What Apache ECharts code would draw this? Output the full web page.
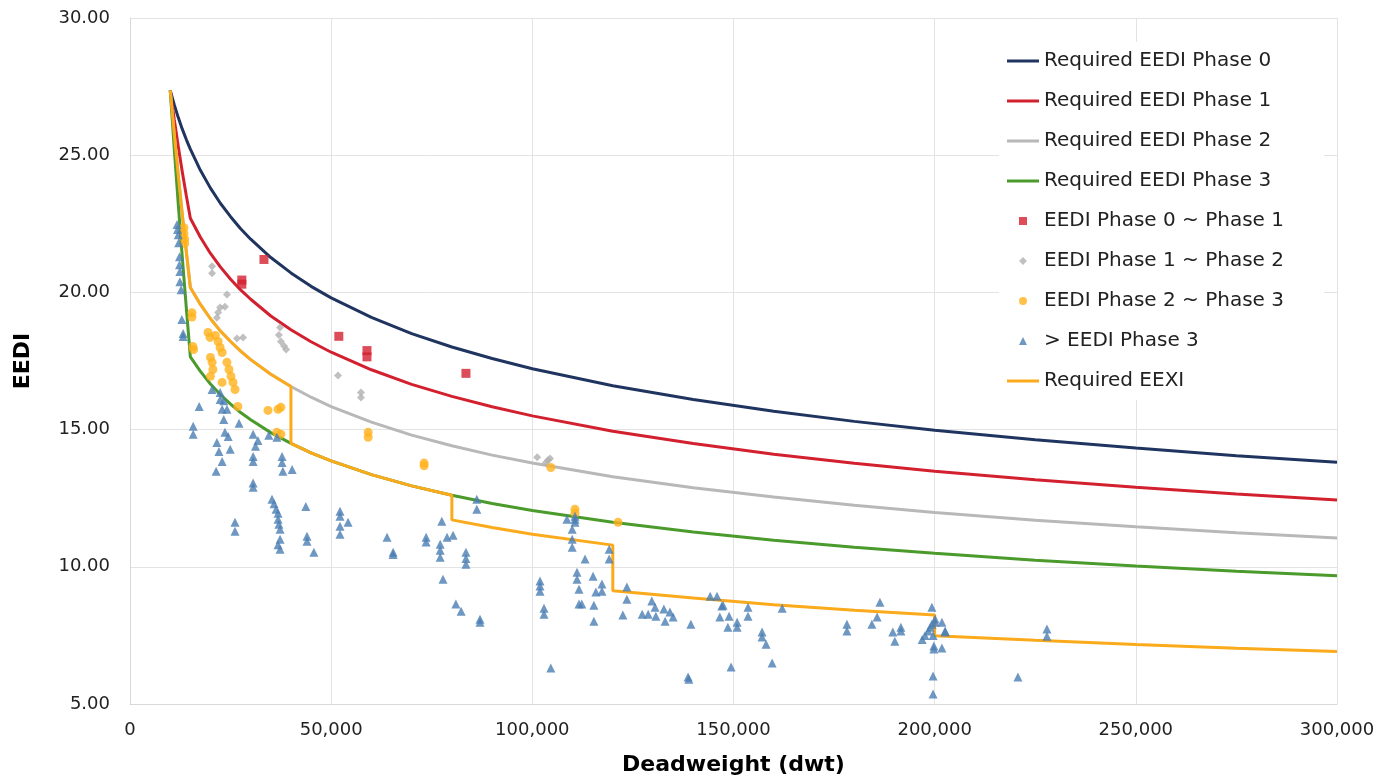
<!DOCTYPE html>
<html><head><meta charset="utf-8">
<script src="https://cdn.jsdelivr.net/npm/echarts@6/dist/echarts.min.js"></script>
<style>html,body{margin:0;padding:0;background:#fff}#c{width:1399px;height:781px}</style>
</head><body><div id="c"></div>
<script>
// Deadweight sample points for the required lines
const dwt = [10000,11000,12000,13000,14000,15000,17500,20000,22500,25000,27500,30000,35000,40000,45000,50000,60000,70000,80000,90000,100000,120000,140000,160000,180000,200000,225000,250000,275000,300000];
const phase0 = [27.36,26.84,26.37,25.95,25.57,25.22,24.45,23.80,23.24,22.76,22.32,21.94,21.27,20.71,20.22,19.80,19.09,18.50,18.01,17.59,17.22,16.60,16.10,15.67,15.30,14.98,14.63,14.33,14.05,13.81];
const phase1 = [27.36,26.30,25.32,24.39,23.52,22.70,22.01,21.42,20.92,20.48,20.09,19.75,19.14,18.64,18.20,17.82,17.18,16.65,16.21,15.83,15.50,14.94,14.49,14.10,13.77,13.48,13.17,12.90,12.65,12.43];
const phase2 = [27.36,25.77,24.26,22.84,21.48,20.18,19.56,19.04,18.59,18.21,17.86,17.55,17.02,16.57,16.18,15.84,15.27,14.80,14.41,14.07,13.78,13.28,12.88,12.54,12.24,11.98,11.70,11.46,11.24,11.05];
const phase3 = [27.36,25.23,23.21,21.28,19.43,17.65,17.12,16.66,16.27,15.93,15.62,15.36,14.89,14.50,14.15,13.86,13.36,12.95,12.61,12.31,12.05,11.62,11.27,10.97,10.71,10.49,10.24,10.03,9.84,9.67];
// Required EEXI (stepped)
const eexiDwt = [10000,11000,12000,13000,14000,15000,17500,20000,22500,25000,27500,30000,35000,40000,40000,45000,50000,60000,70000,80000,80000,90000,100000,120000,120000,140000,160000,180000,200000,200000,225000,250000,275000,300000];
const eexiVal = [27.36,25.77,24.26,22.84,21.48,20.18,19.56,19.04,18.59,18.21,17.86,17.55,17.02,16.57,14.50,14.15,13.86,13.36,12.95,12.61,11.71,11.43,11.19,10.79,9.13,8.86,8.62,8.42,8.24,7.49,7.32,7.17,7.03,6.91];

// Ship points [dwt, EEDI]
const ptsPh0to1 = [[33300,21.2],[27800,20.45],[27800,20.3],[51900,18.4],[58900,17.88],[58900,17.65],[83500,17.05]];
const ptsPh1to2 = [[20400,20.95],[20400,20.7],[24100,19.92],[23600,19.48],[22400,19.45],[21900,19.27],[21600,19.08],[26600,18.32],[28100,18.36],[37300,18.72],[37000,18.45],[37500,18.21],[38300,18.05],[38800,17.92],[51700,16.97],[57400,16.35],[57400,16.17],[101200,13.99],[103900,13.88],[104400,13.95],[103400,13.8]];
const ptsPh2to3 = [[13400,22.36],[13400,22.15],[13600,21.95],[13600,21.78],[15400,19.26],[15400,19.1],[15600,18.03],[15800,17.92],[19400,18.54],[19900,18.36],[21200,18.43],[21900,18.21],[22400,17.99],[22900,17.81],[20000,17.63],[20400,17.45],[20600,17.19],[20000,16.94],[24100,17.45],[24600,17.19],[25100,16.94],[25600,16.72],[26100,16.46],[22900,16.72],[26800,15.84],[34300,15.7],[36800,15.74],[37500,15.81],[36500,14.9],[37500,14.83],[59200,14.9],[59200,14.72],[73100,13.78],[73100,13.68],[104600,13.62],[110600,12.1],[110600,11.95],[121300,11.62]];
const ptsPh3 = [[11700,22.47],[11800,22.29],[12000,22.1],[12100,21.81],[12300,21.3],[12300,21.01],[12400,20.76],[12400,20.39],[12700,20.1],[12900,19.01],[13200,18.39],[13200,18.5],
[20400,16.46],[22400,16.35],[23300,16.05],[24100,15.74],[17200,15.84],[22400,16.1],[22900,15.74],[23300,15.37],[23600,14.9],[15700,15.12],[15700,14.83],
[21600,14.53],[22100,14.2],[22900,13.84],[21400,13.48],[24400,14.75],[24900,14.28],[27100,15.23],[30600,14.83],[31800,14.6],[31200,14.39],[30600,14.02],[30600,13.84],[30600,13.05],[30600,12.9],
[34500,14.79],[36500,14.72],[37800,14.02],[37800,13.8],[38000,13.48],[40300,13.55],[35300,12.46],[35800,12.3],[36300,12.1],[36800,11.95],[36800,11.73],[37000,11.55],[37300,11.37],[37300,11.0],[37300,10.64],[36800,10.8],
[43700,12.2],[26100,11.62],[26100,11.3],[44000,11.11],[44000,10.93],[45700,10.53],[52200,12.02],[52200,11.84],[54200,11.62],[52200,11.48],[52200,11.19],[63900,11.08],[65400,10.53],[65400,10.45],
[77500,11.66],[73600,11.08],[73600,10.9],[77100,10.82],[77100,10.6],[77100,10.35],[78800,11.08],[80300,11.15],[83500,10.53],[83500,10.3],[83500,10.09],[77800,9.55],[81000,8.64],[82300,8.38],[87000,8.09],[87000,7.98],
[101900,9.48],[101900,9.3],[101900,9.11],[102900,8.49],[102900,8.27],[104600,6.31],[109900,11.37],[109900,11.0],[109900,10.71],[111100,9.80],[111100,9.55],[111600,9.18],[111600,8.64],
[86200,12.46],[86200,12.1],[108600,11.73],[110600,11.73],[110600,11.84],[110600,11.62],[113100,10.28],[115100,9.66],[117300,9.37],[117300,9.11],[115800,9.08],[112300,8.64],[115300,8.6],[115300,8.02],
[119100,10.64],[119100,10.28],[123500,9.26],[123500,8.82],[122500,8.24],[127300,8.27],[128800,8.27],[129700,8.75],[130500,8.53],[130700,8.2],[132700,8.46],[133000,8.02],[134200,8.35],[135000,8.17],
[139400,7.91],[138700,5.98],[138900,5.9],[144200,8.93],[145900,8.93],[147100,8.57],[146600,8.17],[147400,8.6],[148900,8.2],[148600,7.8],[150900,7.98],[150900,7.8],[149400,6.35],
[153600,8.53],[153600,8.2],[157100,7.62],[157100,7.44],[158100,7.18],[159600,6.49],[162100,8.49],[178200,7.91],[178200,7.66],[184400,7.91],[185700,8.17],[186400,8.71],
[189600,7.62],[190100,7.29],[191600,7.8],[191600,7.66],[196900,7.35],[197600,7.5],[198400,7.66],[198900,7.8],[199300,7.91],[200100,8.1],[199600,7.5],
[199300,8.53],[200100,7.98],[201800,7.98],[202600,7.66],[202600,7.62],[199800,7.11],[199800,7.0],[201800,7.04],[199600,6.02],[199600,5.36],[220700,5.98],[227900,7.73],[227900,7.47]];

const names = ['Required EEDI Phase 0','Required EEDI Phase 1','Required EEDI Phase 2','Required EEDI Phase 3','EEDI Phase 0 ~ Phase 1','EEDI Phase 1 ~ Phase 2','EEDI Phase 2 ~ Phase 3','> EEDI Phase 3','Required EEXI'];

const FONT = 'DejaVu Sans';
const LINE_ICON = 'path://M0,0h32v3h-32z';
const zip = (xs, ys) => xs.map((x, i) => [x, ys[i]]);
function lineSeries(name, xs, ys, color) {
  return {name, type:'line', data: zip(xs, ys), symbol:'none', showSymbol:false, smooth:false,
    lineStyle:{color, width:3}, itemStyle:{color}, z:2};
}
function scatterSeries(name, data, symbol, size, color) {
  return {name, type:'scatter', data, symbol, symbolSize:size, itemStyle:{color}, z:3};
}

const chart = echarts.init(document.getElementById('c'), null, {renderer:'canvas'});
chart.setOption({
  animation:false,
  backgroundColor:'#fff',
  grid:{left:130, right:62, top:18, bottom:76},
  xAxis:{type:'value', min:0, max:300000, interval:50000,
    name:'Deadweight (dwt)', nameLocation:'middle', nameGap:50,
    nameTextStyle:{fontFamily:FONT, fontWeight:'bold', fontSize:22, color:'#000'},
    axisLine:{show:true, lineStyle:{color:'#d9d9d9', width:1}},
    axisTick:{show:false},
    splitLine:{show:true, lineStyle:{color:'#e3e3e3', width:1}},
    axisLabel:{fontFamily:FONT, fontSize:18, color:'#222', margin:17,
      formatter: v => v.toLocaleString('en-US')}},
  yAxis:{type:'value', min:5, max:30, interval:5,
    name:'EEDI', nameLocation:'middle', nameGap:96, nameRotate:90,
    nameTextStyle:{fontFamily:FONT, fontWeight:'bold', fontSize:22, color:'#000'},
    axisLine:{show:true, lineStyle:{color:'#d9d9d9', width:1}},
    axisTick:{show:false},
    splitLine:{show:true, lineStyle:{color:'#e3e3e3', width:1}},
    axisLabel:{fontFamily:FONT, fontSize:18, color:'#222', margin:20,
      formatter: v => v.toFixed(2)}},
  legend:{orient:'vertical', left:999, top:42, padding:[8,40,8,8],
    backgroundColor:'#fff', itemWidth:32, itemHeight:8, itemGap:18,
    textStyle:{fontFamily:FONT, fontSize:20, color:'#222', lineHeight:22},
    data:[
      {name:names[0], icon:LINE_ICON},{name:names[1], icon:LINE_ICON},
      {name:names[2], icon:LINE_ICON},{name:names[3], icon:LINE_ICON},
      {name:names[4], icon:'path://M0,0h1v1h-1z'},
      {name:names[5], icon:'path://M0.5,0L1,0.5L0.5,1L0,0.5z'},
      {name:names[6], icon:'circle'},
      {name:names[7], icon:'path://M0.5,0L1,1L0,1z'},
      {name:names[8], icon:LINE_ICON}
    ]},
  series:[
    lineSeries(names[0], dwt, phase0, '#1f3560'),
    lineSeries(names[1], dwt, phase1, '#d3202f'),
    lineSeries(names[2], dwt, phase2, '#b8b8b8'),
    lineSeries(names[3], dwt, phase3, '#4a9a2c'),
    scatterSeries(names[4], ptsPh0to1, 'rect', 9, '#d3202f'),
    scatterSeries(names[5], ptsPh1to2, 'diamond', 8, '#b0b0b0'),
    scatterSeries(names[6], ptsPh2to3, 'circle', 9, '#ffb21c'),
    scatterSeries(names[7], ptsPh3, 'triangle', 9, '#4a7db3'),
    lineSeries(names[8], eexiDwt, eexiVal, '#fbaa1c')
  ]
});
</script></body></html>
